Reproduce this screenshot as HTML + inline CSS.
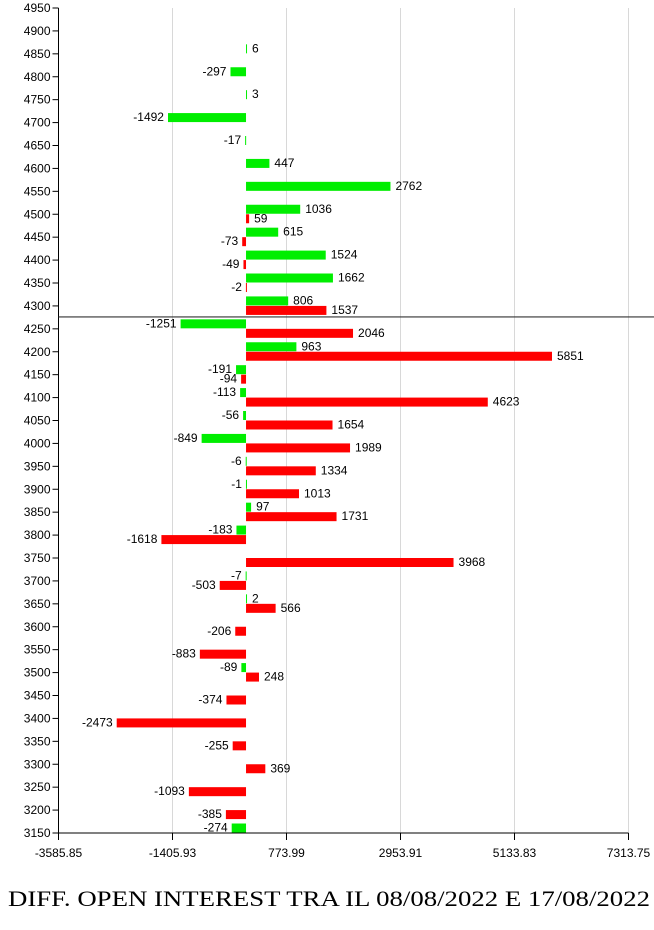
<!DOCTYPE html>
<html><head><meta charset="utf-8"><style>
body{margin:0;background:#fff;width:654px;height:925px;overflow:hidden}
svg text{font-family:"Liberation Sans",sans-serif;font-size:12px}
</style></head><body>
<svg width="654" height="925" xmlns="http://www.w3.org/2000/svg" id="c"></svg>
<script>
const strikes=[4850,4800,4750,4700,4650,4600,4550,4500,4450,4400,4350,4300,4250,4200,4150,4100,4050,4000,3950,3900,3850,3800,3750,3700,3650,3600,3550,3500,3450,3400,3350,3300,3250,3200,3150];
const greenVals=[6,-297,3,-1492,-17,447,2762,1036,615,1524,1662,806,-1251,963,-191,-113,-56,-849,-6,-1,97,-183,null,-7,2,null,null,-89,null,null,null,null,null,null,-274];
const redVals=[null,null,null,null,null,null,null,59,-73,-49,-2,1537,2046,5851,-94,4623,1654,1989,1334,1013,1731,-1618,3968,-503,566,-206,-883,248,-374,-2473,-255,369,-1093,-385,null];
const xTicks=["-3585.85","-1405.93","773.99","2953.91","5133.83","7313.75"];
const yMin=3150,yMax=4950,xMin=-3585.85,xMax=7313.75,priceLine=4276;
const svg=document.getElementById('c');const NS='http://www.w3.org/2000/svg';
const L=58.5,R=628.5,T=8,B=833;
const X=v=>L+(v-xMin)/(xMax-xMin)*(R-L);
const Y=v=>B-(v-yMin)/(yMax-yMin)*(B-T);
function mk(t,a,txt){const e=document.createElementNS(NS,t);for(const k in a)e.setAttribute(k,a[k]);if(txt!=null)e.textContent=txt;svg.appendChild(e);return e;}
xTicks.forEach((t,i)=>{const v=parseFloat(t),x=X(v);
 const g=mk('line',{x1:x,x2:x,y1:T,y2:B,stroke:'#d8d8d8'});
 
 const tk=mk('line',{x1:x,x2:x,y1:B,y2:B+7,stroke:'#000'});
 
 const l=mk('text',{x:x,y:B+24,'text-anchor':'middle'},t);
 
});
for(let s=yMin;s<=yMax;s+=50){const y=Y(s);
 const tk=mk('line',{x1:L-6,x2:L,y1:y,y2:y,stroke:'#000'});
 
 const l=mk('text',{x:L-8,y:y+4,'text-anchor':'end'},String(s));
 
}
const ax=mk('line',{x1:L,x2:L,y1:T,y2:B,stroke:'#000'});

const bx=mk('line',{x1:L,x2:R,y1:B,y2:B,stroke:'#000'});

const x0=X(0);
function bar(v,s,color,off,name){if(v==null)return;const y=Y(s)+off;const xe=X(v);
 const r=mk('rect',{x:Math.min(x0,xe),y:y,width:Math.max(1,Math.abs(xe-x0)),height:9,fill:color});
 
 const t=mk('text',{x:v>=0?Math.max(xe,x0+1)+5:xe-4,y:y+8,'text-anchor':v>=0?'start':'end'},String(v));
 }
strikes.forEach((s,i)=>{bar(greenVals[i],s,'#00ee00',-9.5,'green-bar');bar(redVals[i],s,'#ff0000',0,'red-bar');});
const pl=mk('line',{x1:L,x2:654,y1:Y(priceLine),y2:Y(priceLine),stroke:'#333','stroke-width':1.2});

const ti=mk('text',{x:8,y:906,textLength:642,lengthAdjust:'spacingAndGlyphs',style:'font-family:"Liberation Serif",serif;font-size:22px'},'DIFF. OPEN INTEREST TRA IL 08/08/2022 E 17/08/2022');

</script>
</body></html>
